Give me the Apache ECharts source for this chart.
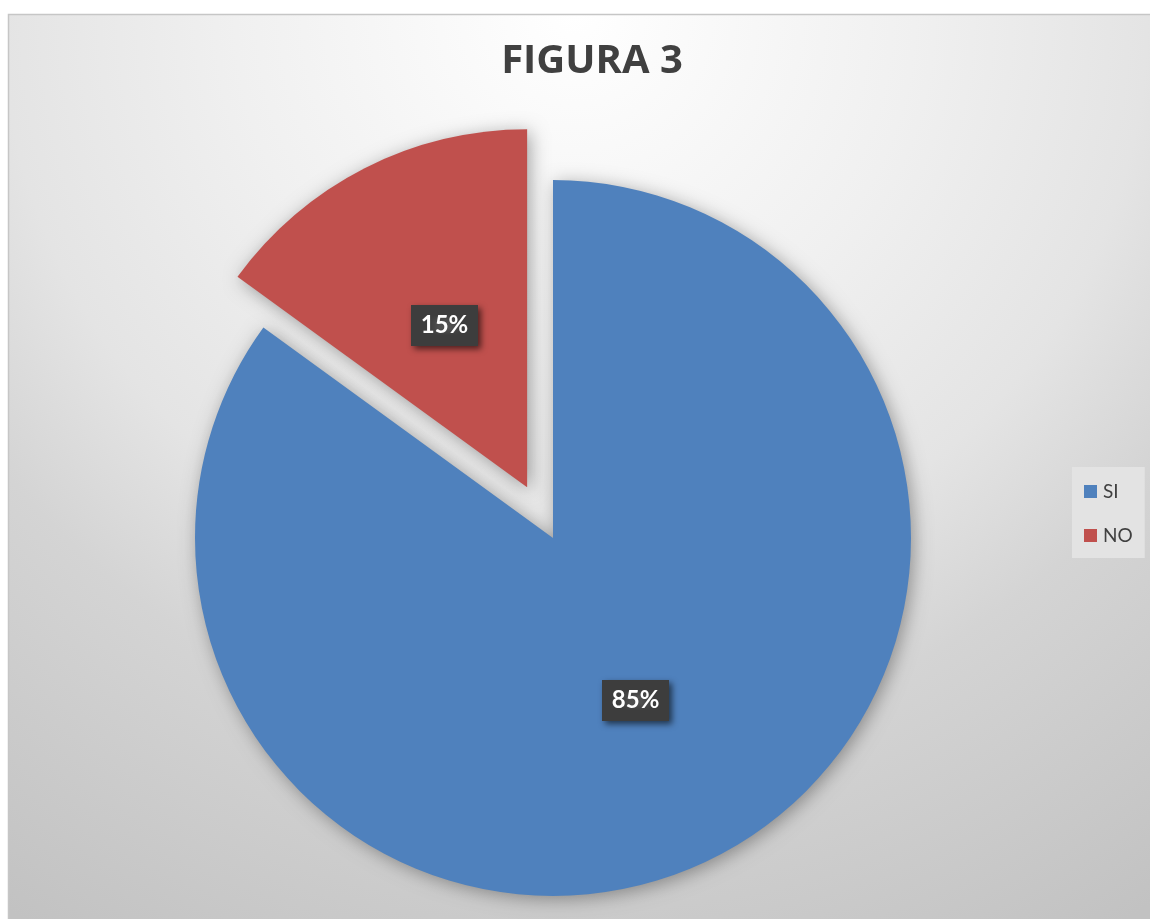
<!DOCTYPE html>
<html>
<head>
<meta charset="utf-8">
<script src="https://cdn.jsdelivr.net/npm/echarts@6/dist/echarts.min.js"></script>
<style>
html,body{margin:0;padding:0;background:#fff;}
#chart{width:1150px;height:919px;}
</style>
</head>
<body>
<div id="chart"></div>
<script>
// ---- data ----
var titleText = 'FIGURA 3';
var categories = ['SI', 'NO'];
var values = [85, 15];
var colors = ['#4F81BD', '#C0504D'];
var explodedIndex = 1;

// label background pattern
var tile = document.createElement('canvas');
tile.width = 6; tile.height = 6;
var tc = tile.getContext('2d');
tc.fillStyle = '#3d3d3d'; tc.fillRect(0, 0, 6, 6);
tc.fillStyle = '#505050'; tc.fillRect(2, 2, 2, 2);

var chart = echarts.init(document.getElementById('chart'), null, {renderer: 'canvas'});

var data = categories.map(function (c, i) {
  return {name: c, value: values[i], selected: i === explodedIndex, itemStyle: {color: colors[i]}};
});

chart.setOption({
  animation: false,
  backgroundColor: '#ffffff',
  graphic: [{
    type: 'rect', z: -10, silent: true,
    shape: {x: 8.5, y: 14.5, width: 1150, height: 920},
    style: {
      fill: {
        type: 'radial', x: 575, y: 14, r: 1060, global: true,
        colorStops: [
          {offset: 0, color: '#ffffff'},
          {offset: 0.32, color: '#f0f0f0'},
          {offset: 0.54, color: '#e4e4e4'},
          {offset: 0.69, color: '#d4d4d4'},
          {offset: 1, color: '#c2c2c2'}
        ]
      },
      stroke: '#c6c6c6', lineWidth: 1.5
    }
  }],
  title: {
    text: titleText,
    left: 587, textAlign: 'center', top: 37,
    textStyle: {fontFamily: 'Open Sans', fontWeight: 'bold', fontSize: 40, color: '#404040'}
  },
  legend: {
    orient: 'vertical',
    left: 1072, top: 467,
    padding: [15, 12, 13, 12],
    backgroundColor: '#e3e3e3',
    itemWidth: 13, itemHeight: 13, itemGap: 25,
    icon: 'rect',
    selectedMode: false,
    data: categories,
    textStyle: {fontFamily: 'Lato', fontSize: 19, color: '#404040', padding: [0, 0, 0, 1]}
  },
  series: [{
    type: 'pie',
    center: [553, 538],
    radius: 358,
    startAngle: 90,
    clockwise: true,
    selectedMode: 'single',
    selectedOffset: 57,
    silent: true,
    emphasis: {disabled: true},
    itemStyle: {shadowBlur: 18, shadowColor: 'rgba(0,0,0,0.35)', shadowOffsetX: 3, shadowOffsetY: 3},
    label: {
      show: true,
      position: 'inside',
      formatter: function (p) { return p.value + '%'; },
      color: '#ffffff',
      fontFamily: 'Lato', fontWeight: 'bold', fontSize: 24,
      backgroundColor: {image: tile, repeat: 'repeat'},
      padding: [9, 10, 8, 10],
      shadowBlur: 6, shadowColor: 'rgba(0,0,0,0.6)', shadowOffsetX: 3, shadowOffsetY: 3
    },
    labelLine: {show: false},
    data: data
  }]
});
</script>
</body>
</html>
